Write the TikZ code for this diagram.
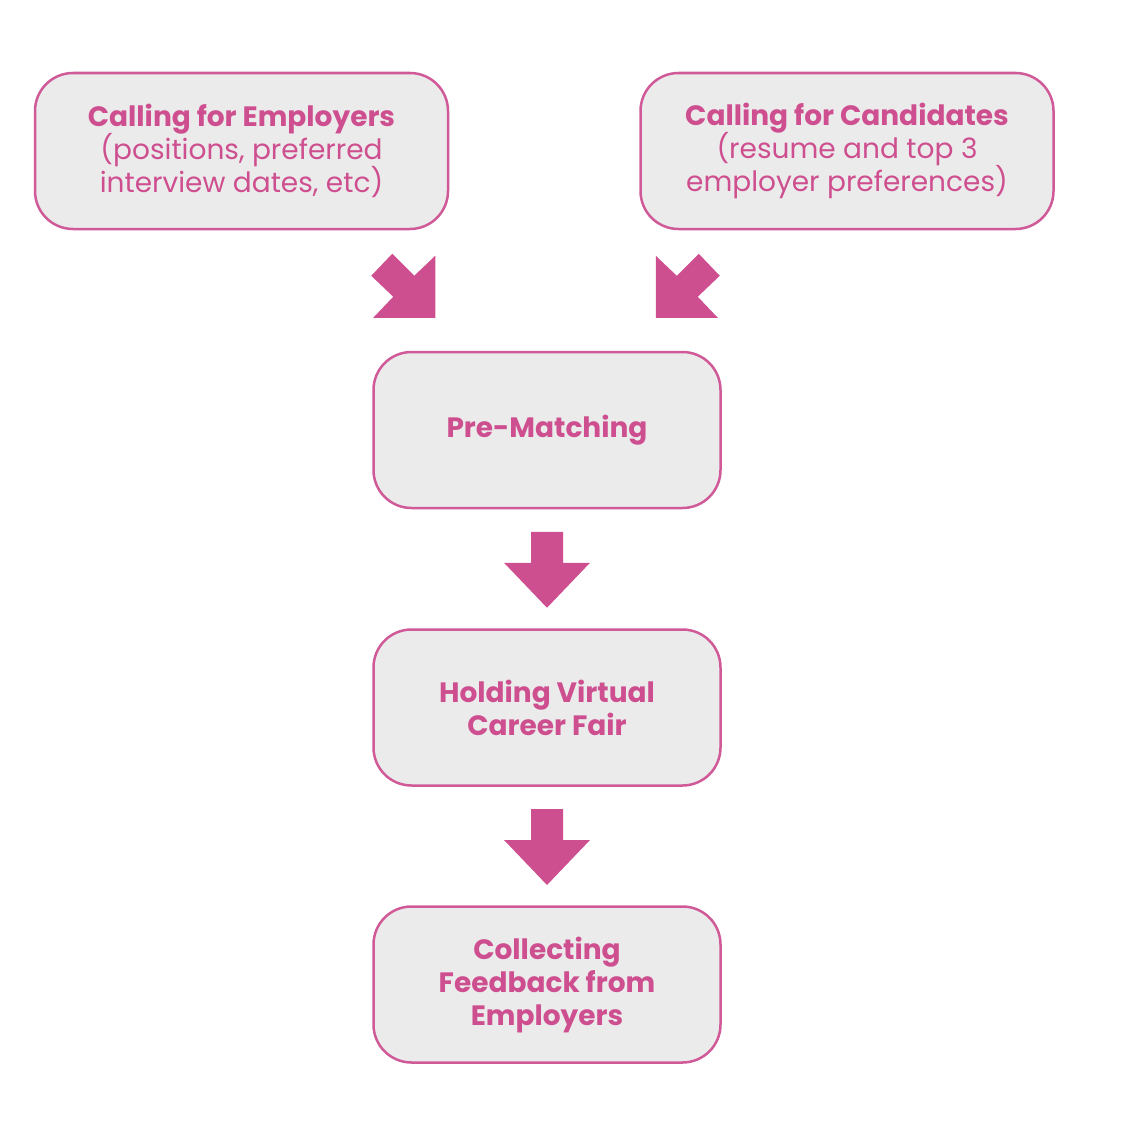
\documentclass[tikz,border=0pt]{standalone}
\usepackage{fontspec}
\setmainfont{Poppins}
\usetikzlibrary{calc}
\definecolor{pk}{RGB}{206,79,143}
\definecolor{bx}{RGB}{236,235,236}
\definecolor{bd}{RGB}{208,90,152}
\begin{document}
\begin{tikzpicture}[x=1pt,y=-1pt,
  box/.style={draw=bd, fill=bx, line width=2.5pt, rounded corners=38pt,
    minimum width=347pt, minimum height=156pt, text=pk, align=center,
    font={\fontsize{28}{33}\selectfont\lineskiplimit=-20pt}, inner sep=0pt},
  widebox/.style={box, minimum width=413pt},
  arr/.style={fill=pk, draw=none}]
\useasboundingbox (0,0) rectangle (1128,1132);
\node[widebox] (emp) at (241.5,151) {\textbf{Calling for Employers}\\(positions, preferred\\interview dates, etc)};
\node[widebox] (cand) at (847,151) {\textbf{Calling for Candidates}\\(resume and top 3\\employer preferences)};
\node[box] (pre) at (547,430) {\textbf{Pre-Matching}};
\node[box] (fair) at (547,707.5) {\textbf{Holding Virtual}\\\textbf{Career Fair}};
\node[box] (fb) at (547,984.5) {\textbf{Collecting}\\\textbf{Feedback from}\\\textbf{Employers}};
% diagonal arrows into pre-matching
\coordinate (t1) at ($(pre.north west)+(63,-33)$);
\coordinate (t2) at ($(pre.north east)+(-66,-33)$);
\fill[arr] (t1) -- ++(0,-62) -- ($(t1)+(-21,-42)$) -- ($(t1)+(-43,-64)$) -- ($(t1)+(-64,-42)$) -- ($(t1)+(-42,-21)$) -- ($(t1)+(-62,0)$) -- cycle;
\fill[arr] (t2) -- ++(0,-62) -- ($(t2)+(21,-42)$) -- ($(t2)+(43,-64)$) -- ($(t2)+(64,-42)$) -- ($(t2)+(42,-21)$) -- ($(t2)+(62,0)$) -- cycle;
% down arrows
\path (pre.south) -- (fair.north) coordinate[midway] (m1);
\path (fair.south) -- (fb.north) coordinate[midway] (m2);
\foreach \m in {m1,m2}{
  \fill[arr] ($(\m)+(-16,-37)$) -- ($(\m)+(16,-37)$) -- ($(\m)+(16,-6)$) -- ($(\m)+(43,-6)$) -- ($(\m)+(0,39)$) -- ($(\m)+(-43,-6)$) -- ($(\m)+(-16,-6)$) -- cycle;
}
\end{tikzpicture}
\end{document}
